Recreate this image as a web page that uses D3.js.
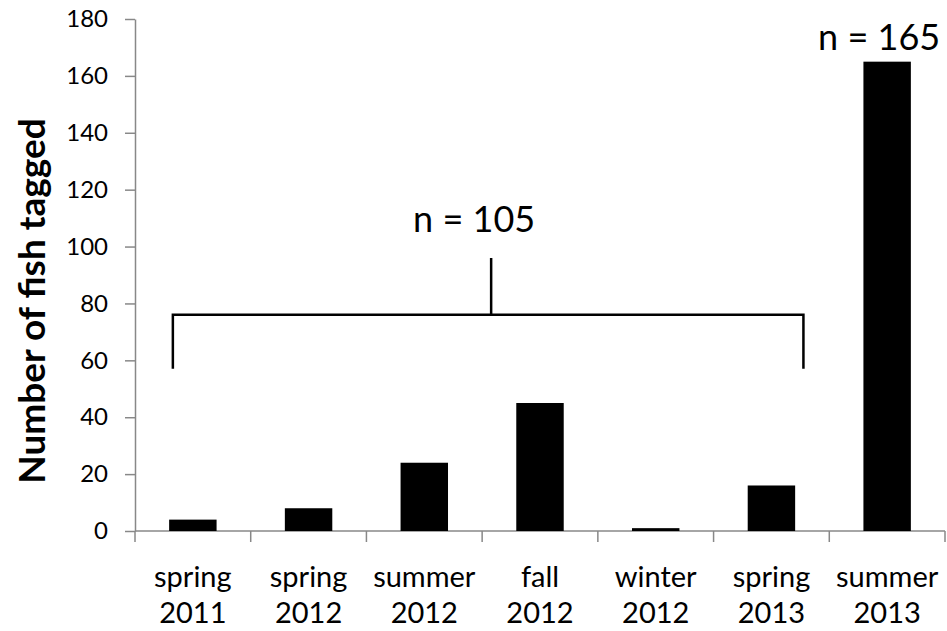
<!DOCTYPE html>
<html lang="en">
<head>
<meta charset="UTF-8">
<title>Number of fish tagged by season</title>
<script src="https://cdnjs.cloudflare.com/ajax/libs/d3/7.8.5/d3.min.js"></script>
<style>
    body {
        margin: 0;
        background: #fff;
    }
    svg text {
        font-family: Lato, 'Open Sans', sans-serif;
        fill: #000;
    }
    .axis path, .axis line {
        stroke: #888;
        stroke-width: 1.5px;
    }
    .axis text {
        font-size: 24px;
    }
    .x-label {
        font-size: 29px;
    }
    .y-title {
        font-size: 37px;
        font-weight: 700;
    }
    .n-label {
        font-size: 36px;
    }
</style>
</head>
<body>
<div id="chart"></div>

<script>
// seasons and years shown under each bar
const seasons = ["spring", "spring", "summer", "fall", "winter", "spring", "summer"];
const years = ["2011", "2012", "2012", "2012", "2012", "2013", "2013"];
// fish tagged per season
const counts = [4, 8, 24, 45, 1, 16, 165];
const yTicks = [0, 20, 40, 60, 80, 100, 120, 140, 160, 180];
// sample size labels written on the chart
const groupTotals = [105, 165];

const width = 947, height = 631;
const margin = { top: 19, right: 2, bottom: 100, left: 135 };

const categories = seasons.map((s, i) => s + " " + years[i]);
const data = categories.map((c, i) => ({ cat: c, season: seasons[i], year: years[i], count: counts[i] }));

const svg = d3.select("#chart")
    .append("svg")
    .attr("width", width)
    .attr("height", height);

const x = d3.scaleBand()
    .domain(categories)
    .range([margin.left, width - margin.right])
    .paddingInner(0.59)
    .paddingOuter(0.295);

const y = d3.scaleLinear()
    .domain([0, 180])
    .range([height - margin.bottom, margin.top]);

// y axis
svg.append("g")
    .attr("class", "axis")
    .attr("transform", `translate(${margin.left},0)`)
    .call(d3.axisLeft(y).tickValues(yTicks).tickSize(10).tickPadding(17).tickSizeOuter(0));

// x axis line + ticks at band boundaries
const step = x.step();
const x0 = x.range()[0];
const gx = svg.append("g").attr("class", "axis");
gx.append("line")
    .attr("x1", x0).attr("x2", x.range()[1])
    .attr("y1", y(0)).attr("y2", y(0));
gx.selectAll(".xtick")
    .data(d3.range(categories.length + 1))
    .enter()
    .append("line")
    .attr("class", "xtick")
    .attr("x1", i => x0 + i * step)
    .attr("x2", i => x0 + i * step)
    .attr("y1", y(0))
    .attr("y2", y(0) + 11);

// bars
svg.selectAll(".bar")
    .data(data)
    .enter()
    .append("rect")
    .attr("class", "bar")
    .attr("x", d => x(d.cat))
    .attr("width", x.bandwidth())
    .attr("y", d => y(d.count))
    .attr("height", d => y(0) - y(d.count))
    .attr("fill", "#000");

// two line category labels
const labels = svg.selectAll(".x-label")
    .data(data)
    .enter()
    .append("text")
    .attr("class", "x-label")
    .attr("text-anchor", "middle");
labels.append("tspan")
    .attr("x", d => x(d.cat) + x.bandwidth() / 2)
    .attr("y", y(0) + 56)
    .text(d => d.season);
labels.append("tspan")
    .attr("x", d => x(d.cat) + x.bandwidth() / 2)
    .attr("y", y(0) + 92)
    .text(d => d.year);

// y axis title
svg.append("text")
    .attr("class", "y-title")
    .attr("transform", `translate(45,${(y(0) + y(180)) / 2 + 26}) rotate(-90)`)
    .attr("text-anchor", "middle")
    .text("Number of fish tagged");

// bracket over the first six seasons
const first = data[0], last = data[5];
const bl = x(first.cat) + x.bandwidth() / 2 - 20;
const br = x(last.cat) + x.bandwidth() / 2 + 32;
const bm = (bl + br) / 2 + 3;
svg.append("path")
    .attr("d", `M${bl},${y(57)}V${y(76)}H${br}V${y(57)}M${bm},${y(76)}V${y(96)}`)
    .attr("fill", "none")
    .attr("stroke", "#000")
    .attr("stroke-width", 2.5);

svg.append("text")
    .attr("class", "n-label")
    .attr("x", bm - 17)
    .attr("y", y(105))
    .attr("text-anchor", "middle")
    .text(`n = ${groupTotals[0]}`);

const big = data[6];
svg.append("text")
    .attr("class", "n-label")
    .attr("x", x(big.cat) + x.bandwidth() / 2 - 8)
    .attr("y", y(big.count) - 12)
    .attr("text-anchor", "middle")
    .text(`n = ${groupTotals[1]}`);
</script>
</body>
</html>
